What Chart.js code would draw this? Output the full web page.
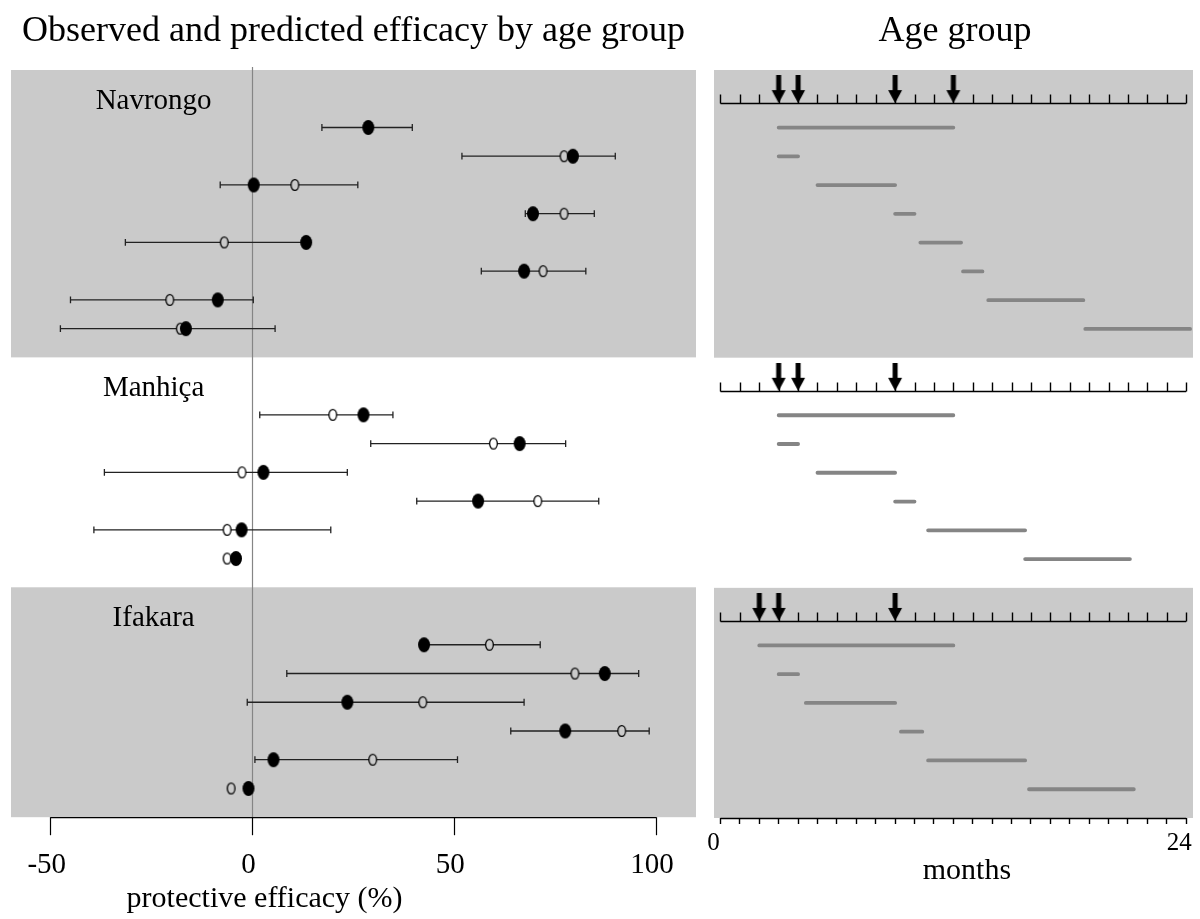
<!DOCTYPE html>
<html>
<head>
<meta charset="utf-8">
<script src="https://cdn.jsdelivr.net/npm/chart.js@4.4.0/dist/chart.umd.min.js"></script>
<style>
  body { margin: 0; background: #fff; }
  #effBox { position: absolute; left: 0; top: 0; }
  #ageBox { position: absolute; left: 706px; top: 0; }
</style>
</head>
<body>
<div id="effBox"><canvas id="effChart" width="706" height="919"></canvas></div>
<div id="ageBox"><canvas id="ageChart" width="494" height="919"></canvas></div>
<script>
const sites = ["Navrongo", "Manhiça", "Ifakara"];
const shaded = [true, false, true];

// protective efficacy (%): observed (filled), predicted (open), 95% CI of observed
const navObserved = [28.7, 79.4, 0.3, 69.5, 13.3, 67.3, -8.6, -16.5];
const navPredicted = [28.7, 77.2, 10.5, 77.2, -7.0, 72.0, -20.5, -17.9];
const navLower = [17.2, 51.9, -8.0, 67.6, -31.5, 56.7, -45.1, -47.6];
const navUpper = [39.6, 89.9, 26.1, 84.7, 13.3, 82.6, 0.2, 5.6];

const manObserved = [27.5, 66.2, 2.7, 55.9, -2.7, -4.1];
const manPredicted = [19.9, 59.7, -2.6, 70.7, -6.3, -6.3];
const manLower = [1.8, 29.3, -36.7, 40.7, -39.3, null];
const manUpper = [34.8, 77.6, 23.5, 85.8, 19.4, null];

const ifaObserved = [42.5, 87.3, 23.5, 77.5, 5.2, -1.0];
const ifaPredicted = [58.7, 79.9, 42.2, 91.5, 29.8, -5.3];
const ifaLower = [42.5, 8.5, -1.3, 64.0, 0.6, null];
const ifaUpper = [71.3, 95.7, 67.3, 98.3, 50.8, null];

// age groups (months)
const navAgeFrom = [3, 3, 5, 9, 10.3, 12.5, 13.8, 18.8];
const navAgeTo = [12, 4, 9, 10, 12.4, 13.5, 18.7, 24.2];
const manAgeFrom = [3, 3, 5, 9, 10.7, 15.7];
const manAgeTo = [12, 4, 9, 10, 15.7, 21.1];
const ifaAgeFrom = [2, 3, 4.4, 9.3, 10.7, 15.9];
const ifaAgeTo = [12, 4, 9, 10.4, 15.7, 21.3];

// dose times (arrows), months
const navDoses = [3, 4, 9, 12];
const manDoses = [3, 4, 9];
const ifaDoses = [2, 3, 9];

const effTicks = [-50, 0, 50, 100];
const monthTicks = [0, 1, 2, 3, 4, 5, 6, 7, 8, 9, 10, 11, 12, 13, 14, 15, 16, 17, 18, 19, 20, 21, 22, 23, 24];

const GRAY = '#cacaca';
const FONT = 'Liberation Serif';

const groups = [
  { obs: navObserved, pred: navPredicted, lo: navLower, hi: navUpper, from: navAgeFrom, to: navAgeTo, doses: navDoses },
  { obs: manObserved, pred: manPredicted, lo: manLower, hi: manUpper, from: manAgeFrom, to: manAgeTo, doses: manDoses },
  { obs: ifaObserved, pred: ifaPredicted, lo: ifaLower, hi: ifaUpper, from: ifaAgeFrom, to: ifaAgeTo, doses: ifaDoses }
];

// each panel: 2 row slots above its first row, 1 below its last
let edge = -1;
const panels = groups.map((g, k) => {
  const first = edge + 2;
  const rows = g.obs.map((_, i) => first + i);
  const p = Object.assign({}, g, { site: sites[k], shaded: shaded[k], top: edge, first: first, rows: rows, bottom: first + rows.length });
  edge = p.bottom;
  return p;
});

const ciPoints = [], obsPoints = [], predPoints = [], agePoints = [], dosePoints = [];
panels.forEach(p => {
  p.rows.forEach((r, i) => {
    if (p.lo[i] !== null) ciPoints.push({ x: p.lo[i], y: r }, { x: p.hi[i], y: r }, { x: null, y: null });
    obsPoints.push({ x: p.obs[i], y: r });
    predPoints.push({ x: p.pred[i], y: r, s: p.shaded });
    agePoints.push({ x: p.from[i], y: r }, { x: p.to[i], y: r }, { x: null, y: null });
  });
  p.doses.forEach(d => dosePoints.push({ x: d, y: p.first - 0.85 }));
});

function ellipse(w, h, fill, stroke, lw) {
  const c = document.createElement('canvas');
  c.width = w + 2; c.height = h + 2;
  const g = c.getContext('2d');
  g.beginPath();
  g.ellipse(c.width / 2, c.height / 2, w / 2 - lw / 2, h / 2 - lw / 2, 0, 0, Math.PI * 2);
  if (fill) { g.fillStyle = fill; g.fill(); }
  if (stroke) { g.lineWidth = lw; g.strokeStyle = stroke; g.stroke(); }
  return c;
}
const filledDot = ellipse(12, 15, '#000', null, 0);
const openDotGray = ellipse(9, 12, GRAY, '#000', 1.3);
const openDotWhite = ellipse(9, 12, '#fff', '#000', 1.3);

// arrow with its tip at the image centre
const arrow = (() => {
  const c = document.createElement('canvas');
  c.width = 16; c.height = 56;
  const g = c.getContext('2d');
  g.fillStyle = '#000';
  g.fillRect(5.5, 0, 5, 16);
  g.beginPath();
  g.moveTo(1, 15); g.lineTo(15, 15); g.lineTo(8, 28); g.closePath();
  g.fill();
  return c;
})();

Chart.defaults.font.family = FONT;
Chart.defaults.color = '#000';

const effPlugin = {
  id: 'effPanels',
  beforeDatasetsDraw(chart) {
    const { ctx, chartArea: a, scales: { x, y } } = chart;
    ctx.save();
    panels.forEach(p => {
      if (!p.shaded) return;
      const t = y.getPixelForValue(p.top), b = y.getPixelForValue(p.bottom);
      ctx.fillStyle = GRAY;
      ctx.fillRect(a.left, t, a.right - a.left, b - t);
    });
    const x0 = Math.round(x.getPixelForValue(0)) + 0.5;
    ctx.strokeStyle = '#858585';
    ctx.lineWidth = 1.2;
    ctx.beginPath();
    ctx.moveTo(x0, a.top - 3);
    ctx.lineTo(x0, a.bottom);
    ctx.stroke();
    ctx.fillStyle = '#000';
    ctx.font = '29px "' + FONT + '"';
    ctx.textAlign = 'center';
    ctx.textBaseline = 'alphabetic';
    panels.forEach(p => {
      ctx.fillText(p.site, x.getPixelForValue(-24.5), y.getPixelForValue(p.first - 0.65));
    });
    ctx.restore();
  },
  afterDraw(chart) {
    const { ctx, chartArea: a, scales: { x } } = chart;
    ctx.save();
    ctx.strokeStyle = '#000';
    ctx.lineWidth = 1.3;
    ctx.beginPath();
    ctx.moveTo(x.getPixelForValue(effTicks[0]), a.bottom + 0.5);
    ctx.lineTo(x.getPixelForValue(effTicks[effTicks.length - 1]), a.bottom + 0.5);
    ctx.stroke();
    ctx.fillStyle = '#000';
    ctx.font = '30px "' + FONT + '"';
    ctx.textAlign = 'center';
    ctx.textBaseline = 'alphabetic';
    ctx.fillText('protective efficacy (%)', x.getPixelForValue(3), a.bottom + 90);
    ctx.restore();
  }
};

const agePlugin = {
  id: 'agePanels',
  beforeDatasetsDraw(chart) {
    const { ctx, chartArea: a, scales: { x, y } } = chart;
    ctx.save();
    panels.forEach(p => {
      if (!p.shaded) return;
      const t = y.getPixelForValue(p.top), b = y.getPixelForValue(p.bottom);
      ctx.fillStyle = GRAY;
      ctx.fillRect(a.left, t, a.right - a.left, b - t);
    });
    ctx.strokeStyle = '#000';
    ctx.lineWidth = 1.4;
    panels.forEach(p => {
      const yy = Math.round(y.getPixelForValue(p.first - 0.85)) + 0.5;
      ctx.beginPath();
      ctx.moveTo(x.getPixelForValue(monthTicks[0]), yy);
      ctx.lineTo(x.getPixelForValue(monthTicks[monthTicks.length - 1]), yy);
      monthTicks.forEach(m => {
        const xx = Math.round(x.getPixelForValue(m)) + 0.5;
        ctx.moveTo(xx, yy);
        ctx.lineTo(xx, yy - 9);
      });
      ctx.stroke();
    });
    ctx.restore();
  },
  afterDraw(chart) {
    const { ctx, chartArea: a, scales: { x } } = chart;
    ctx.save();
    ctx.strokeStyle = '#000';
    ctx.lineWidth = 1.4;
    ctx.beginPath();
    ctx.moveTo(x.getPixelForValue(monthTicks[0]), a.bottom + 0.5);
    ctx.lineTo(x.getPixelForValue(monthTicks[monthTicks.length - 1]), a.bottom + 0.5);
    ctx.stroke();
    ctx.fillStyle = '#000';
    ctx.font = '30px "' + FONT + '"';
    ctx.textAlign = 'center';
    ctx.textBaseline = 'alphabetic';
    ctx.fillText('months', x.getPixelForValue(12.7), a.bottom + 61);
    ctx.restore();
  }
};

const titleOpts = text => ({
  display: true,
  text: text,
  font: { size: 36, weight: 'normal', family: FONT },
  color: '#000',
  padding: { top: 10, bottom: 16.8 }
});

const yScale = { type: 'linear', min: panels[0].top, max: panels[panels.length - 1].bottom, reverse: true, display: false };

new Chart(document.getElementById('effChart'), {
  type: 'scatter',
  data: {
    datasets: [
      { data: obsPoints, pointStyle: filledDot, pointRadius: 7, order: 0 },
      { data: predPoints, pointStyle: c => (c.raw && c.raw.s ? openDotGray : openDotWhite), pointRadius: 5, order: 1 },
      {
        data: ciPoints, showLine: true, borderColor: '#222', borderWidth: 1.3,
        pointStyle: 'line', pointRotation: 90, pointRadius: 3.4,
        pointBorderColor: '#222', pointBorderWidth: 1.3, order: 2
      }
    ]
  },
  options: {
    responsive: false,
    animation: false,
    events: [],
    layout: { padding: { left: 11, right: 10, top: 0, bottom: 23 } },
    plugins: { legend: { display: false }, tooltip: { enabled: false }, title: titleOpts('Observed and predicted efficacy by age group') },
    scales: {
      x: {
        type: 'linear', min: -59.84, max: 109.9,
        afterBuildTicks: s => { s.ticks = effTicks.map(v => ({ value: v })); },
        afterFit: s => { s.paddingLeft = 0; s.paddingRight = 0; },
        border: { display: false },
        grid: { drawOnChartArea: false, tickLength: 18, tickColor: '#000', tickWidth: 1.2 },
        ticks: { font: { size: 29 }, padding: 13, labelOffset: -4, maxRotation: 0, autoSkip: false }
      },
      y: yScale
    }
  },
  plugins: [effPlugin]
});

new Chart(document.getElementById('ageChart'), {
  type: 'scatter',
  data: {
    datasets: [
      { data: dosePoints, pointStyle: arrow, pointRadius: 6, order: 0 },
      {
        data: agePoints, showLine: true, borderColor: '#858585', borderWidth: 3.8,
        borderCapStyle: 'round', pointRadius: 0, order: 1
      }
    ]
  },
  options: {
    responsive: false,
    animation: false,
    events: [],
    layout: { padding: { left: 8, right: 4, top: 0, bottom: 57 } },
    plugins: { legend: { display: false }, tooltip: { enabled: false }, title: titleOpts('Age group') },
    scales: {
      x: {
        type: 'linear', min: -0.333, max: 24.35,
        afterBuildTicks: s => { s.ticks = monthTicks.map(v => ({ value: v })); },
        afterFit: s => { s.paddingLeft = 0; s.paddingRight = 0; },
        border: { display: false },
        grid: { drawOnChartArea: false, tickLength: 6, tickColor: '#000', tickWidth: 1.4 },
        ticks: {
          font: { size: 25 }, padding: 4, labelOffset: -7, maxRotation: 0, autoSkip: false,
          callback: (v, i, t) => (i === 0 || i === t.length - 1 ? String(v) : '')
        }
      },
      y: yScale
    }
  },
  plugins: [agePlugin]
});
</script>
</body>
</html>
